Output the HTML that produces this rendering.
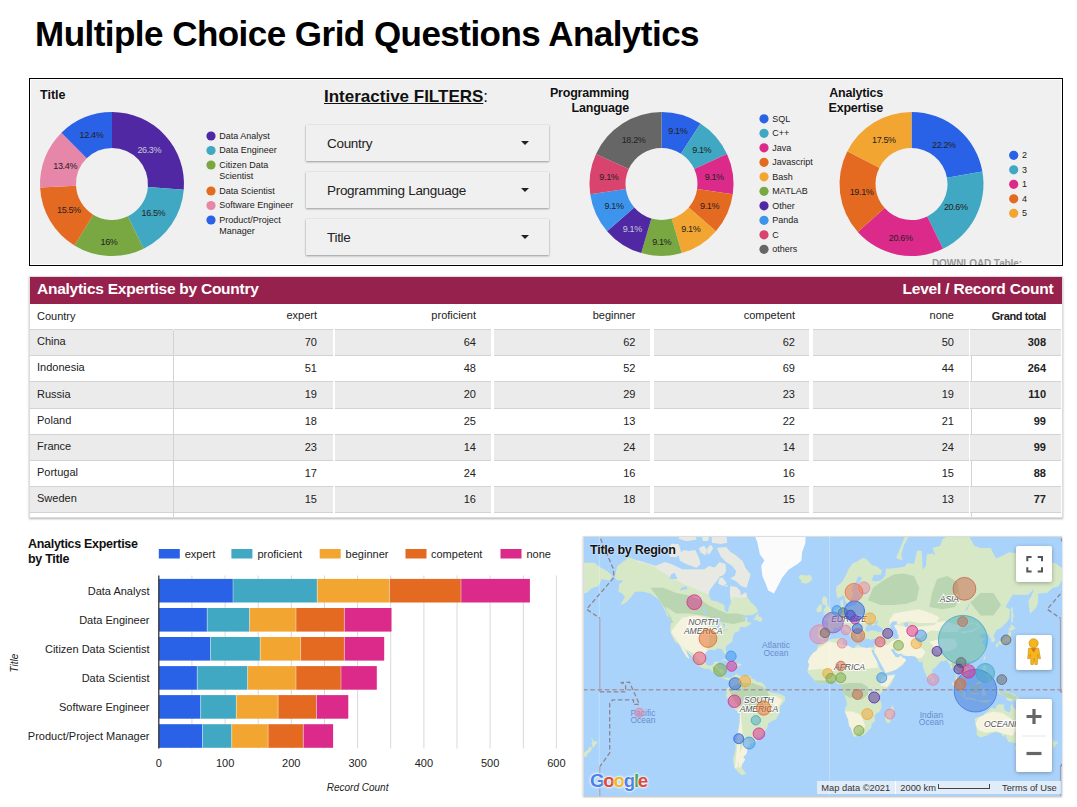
<!DOCTYPE html>
<html><head><meta charset="utf-8"><style>
*{margin:0;padding:0;box-sizing:border-box}
html,body{width:1077px;height:807px;overflow:hidden;background:#fff;font-family:"Liberation Sans", sans-serif;color:#222}
.abs{position:absolute}
#title{position:absolute;left:35px;top:13.6px;font-size:35px;font-weight:bold;color:#000;white-space:nowrap;letter-spacing:-0.53px}
#panel{position:absolute;left:29px;top:78px;width:1034px;height:188px;background:#f0f0f0;border:1px solid #000;box-shadow:inset 0 0 0 1px #fff}
svg{position:absolute;left:0;top:0}
svg text{font-family:"Liberation Sans", sans-serif}
.flt{position:absolute;left:306px;width:243px;height:36px;background:#f0f0f0;box-shadow:0 1px 2px rgba(0,0,0,.35),0 0 1px rgba(0,0,0,.15);font-size:13.5px;color:#222}
.flt span{position:absolute;left:21px;top:11px;letter-spacing:-0.3px}
.flt i{position:absolute;right:20px;top:16px;width:0;height:0;border-left:4px solid transparent;border-right:4px solid transparent;border-top:4px solid #222}
.ptitle{position:absolute;font-size:12.5px;font-weight:bold;color:#111;line-height:15px;white-space:nowrap;text-shadow:0 0 2px #fff}
#tbl{position:absolute;left:29px;top:276px;width:1034px;height:242px;background:#fff;border:1px solid #ddd;box-shadow:0 1px 2px rgba(0,0,0,.3)}
.tc{position:absolute;font-size:11px;color:#222;white-space:nowrap}
.cell{position:absolute}
.hl{position:absolute;height:1px;background:#d3d3d3}
.vl{position:absolute;width:1px;background:#d3d3d3}
.mbtn{position:absolute;left:1016px;width:36px;background:#fff;border-radius:2px;box-shadow:0 1px 4px rgba(0,0,0,.3)}
.mbtn svg{position:absolute;left:0;top:0}
</style></head><body>
<div id="title">Multiple Choice Grid Questions Analytics</div>
<div id="panel"></div>
<div class="ptitle" style="left:40px;top:88px">Title</div>
<div style="position:absolute;left:324px;top:87px;font-size:17px;font-weight:bold;color:#111;white-space:nowrap"><span style="text-decoration:underline">Interactive FILTERS</span><span style="font-weight:normal">:</span></div>
<div class="flt" style="top:125px"><span>Country</span><i></i></div>
<div class="flt" style="top:172px"><span>Programming Language</span><i></i></div>
<div class="flt" style="top:219px"><span>Title</span><i></i></div>
<div class="ptitle" style="right:448px;top:86px;text-align:right;letter-spacing:-0.2px">Programming<br>Language</div>
<div class="ptitle" style="right:194px;top:86px;text-align:right;letter-spacing:-0.2px">Analytics<br>Expertise</div>
<div style="position:absolute;left:932px;top:256.5px;height:8px;overflow:hidden;font-size:10px;font-weight:bold;color:#9a9a9a;white-space:nowrap;line-height:13px;letter-spacing:-0.1px">DOWNLOAD Table:</div>
<svg width="1077" height="807" viewBox="0 0 1077 807">
<path d="M112.00,112.00A72,72 0 0 1 183.77,189.76L147.88,186.88A36,36 0 0 0 112.00,148.00Z" fill="#5028a4"/>
<path d="M183.77,189.76A72,72 0 0 1 143.65,248.67L127.82,216.34A36,36 0 0 0 147.88,186.88Z" fill="#41a8c3"/>
<path d="M143.65,248.67A72,72 0 0 1 74.41,245.41L93.21,214.71A36,36 0 0 0 127.82,216.34Z" fill="#79a843"/>
<path d="M74.41,245.41A72,72 0 0 1 40.09,187.50L76.04,185.75A36,36 0 0 0 93.21,214.71Z" fill="#e46a22"/>
<path d="M40.09,187.50A72,72 0 0 1 61.45,132.73L86.72,158.37A36,36 0 0 0 76.04,185.75Z" fill="#e686a8"/>
<path d="M61.45,132.73A72,72 0 0 1 112.00,112.00L112.00,148.00A36,36 0 0 0 86.72,158.37Z" fill="#2962e6"/>
<text x="149.3" y="153.0" fill="#c8c8d8" font-size="9" letter-spacing="-0.35" text-anchor="middle">26.3%</text>
<text x="153.4" y="216.1" fill="#222" font-size="9" letter-spacing="-0.35" text-anchor="middle">16.5%</text>
<text x="109.0" y="244.9" fill="#222" font-size="9" letter-spacing="-0.35" text-anchor="middle">16%</text>
<text x="68.9" y="212.8" fill="#222" font-size="9" letter-spacing="-0.35" text-anchor="middle">15.5%</text>
<text x="65.2" y="168.9" fill="#222" font-size="9" letter-spacing="-0.35" text-anchor="middle">13.4%</text>
<text x="91.5" y="138.4" fill="#222" font-size="9" letter-spacing="-0.35" text-anchor="middle">12.4%</text>
<circle cx="211" cy="136" r="4.6" fill="#5028a4"/>
<text x="219.3" y="138.8" font-size="9" letter-spacing="0" fill="#222">Data Analyst</text>
<circle cx="211" cy="150.5" r="4.6" fill="#41a8c3"/>
<text x="219.3" y="153.3" font-size="9" letter-spacing="0" fill="#222">Data Engineer</text>
<circle cx="211" cy="165" r="4.6" fill="#79a843"/>
<text x="219.3" y="167.8" font-size="9" letter-spacing="0" fill="#222">Citizen Data</text>
<text x="219.3" y="179.4" font-size="9" letter-spacing="0" fill="#222">Scientist</text>
<circle cx="211" cy="191" r="4.6" fill="#e46a22"/>
<text x="219.3" y="193.8" font-size="9" letter-spacing="0" fill="#222">Data Scientist</text>
<circle cx="211" cy="205.5" r="4.6" fill="#e686a8"/>
<text x="219.3" y="208.3" font-size="9" letter-spacing="0" fill="#222">Software Engineer</text>
<circle cx="211" cy="220" r="4.6" fill="#2962e6"/>
<text x="219.3" y="222.8" font-size="9" letter-spacing="0" fill="#222">Product/Project</text>
<text x="219.3" y="234.4" font-size="9" letter-spacing="0" fill="#222">Manager</text>
<path d="M661.50,112.00A72,72 0 0 1 700.43,123.43L680.96,153.71A36,36 0 0 0 661.50,148.00Z" fill="#2962e6"/>
<path d="M700.43,123.43A72,72 0 0 1 726.99,154.09L694.25,169.05A36,36 0 0 0 680.96,153.71Z" fill="#41a8c3"/>
<path d="M726.99,154.09A72,72 0 0 1 732.77,194.25L697.13,189.12A36,36 0 0 0 694.25,169.05Z" fill="#dc2a8b"/>
<path d="M732.77,194.25A72,72 0 0 1 715.91,231.15L688.71,207.57A36,36 0 0 0 697.13,189.12Z" fill="#e46a22"/>
<path d="M715.91,231.15A72,72 0 0 1 681.78,253.08L671.64,218.54A36,36 0 0 0 688.71,207.57Z" fill="#f2a531"/>
<path d="M681.78,253.08A72,72 0 0 1 641.22,253.08L651.36,218.54A36,36 0 0 0 671.64,218.54Z" fill="#79a843"/>
<path d="M641.22,253.08A72,72 0 0 1 607.09,231.15L634.29,207.57A36,36 0 0 0 651.36,218.54Z" fill="#5028a4"/>
<path d="M607.09,231.15A72,72 0 0 1 590.23,194.25L625.87,189.12A36,36 0 0 0 634.29,207.57Z" fill="#3c94ed"/>
<path d="M590.23,194.25A72,72 0 0 1 596.01,154.09L628.75,169.05A36,36 0 0 0 625.87,189.12Z" fill="#d9446f"/>
<path d="M596.01,154.09A72,72 0 0 1 661.50,112.00L661.50,148.00A36,36 0 0 0 628.75,169.05Z" fill="#666666"/>
<text x="677.8" y="134.2" fill="#222" font-size="9" letter-spacing="-0.35" text-anchor="middle">9.1%</text>
<text x="701.7" y="153.0" fill="#222" font-size="9" letter-spacing="-0.35" text-anchor="middle">9.1%</text>
<text x="714.2" y="180.0" fill="#222" font-size="9" letter-spacing="-0.35" text-anchor="middle">9.1%</text>
<text x="709.5" y="209.1" fill="#222" font-size="9" letter-spacing="-0.35" text-anchor="middle">9.1%</text>
<text x="690.8" y="232.0" fill="#222" font-size="9" letter-spacing="-0.35" text-anchor="middle">9.1%</text>
<text x="661.7" y="245.0" fill="#222" font-size="9" letter-spacing="-0.35" text-anchor="middle">9.1%</text>
<text x="632.3" y="232.0" fill="#c8c8d8" font-size="9" letter-spacing="-0.35" text-anchor="middle">9.1%</text>
<text x="614.1" y="209.1" fill="#222" font-size="9" letter-spacing="-0.35" text-anchor="middle">9.1%</text>
<text x="608.9" y="180.0" fill="#222" font-size="9" letter-spacing="-0.35" text-anchor="middle">9.1%</text>
<text x="633.6" y="143.1" fill="#222" font-size="9" letter-spacing="-0.35" text-anchor="middle">18.2%</text>
<circle cx="764" cy="118.8" r="4.6" fill="#2962e6"/>
<text x="772.3" y="121.6" font-size="9" letter-spacing="0" fill="#222">SQL</text>
<circle cx="764" cy="133.3" r="4.6" fill="#41a8c3"/>
<text x="772.3" y="136.1" font-size="9" letter-spacing="0" fill="#222">C++</text>
<circle cx="764" cy="147.8" r="4.6" fill="#dc2a8b"/>
<text x="772.3" y="150.6" font-size="9" letter-spacing="0" fill="#222">Java</text>
<circle cx="764" cy="162.3" r="4.6" fill="#e46a22"/>
<text x="772.3" y="165.1" font-size="9" letter-spacing="0" fill="#222">Javascript</text>
<circle cx="764" cy="176.8" r="4.6" fill="#f2a531"/>
<text x="772.3" y="179.6" font-size="9" letter-spacing="0" fill="#222">Bash</text>
<circle cx="764" cy="191.3" r="4.6" fill="#79a843"/>
<text x="772.3" y="194.1" font-size="9" letter-spacing="0" fill="#222">MATLAB</text>
<circle cx="764" cy="205.8" r="4.6" fill="#5028a4"/>
<text x="772.3" y="208.6" font-size="9" letter-spacing="0" fill="#222">Other</text>
<circle cx="764" cy="220.3" r="4.6" fill="#3c94ed"/>
<text x="772.3" y="223.1" font-size="9" letter-spacing="0" fill="#222">Panda</text>
<circle cx="764" cy="234.8" r="4.6" fill="#d9446f"/>
<text x="772.3" y="237.6" font-size="9" letter-spacing="0" fill="#222">C</text>
<circle cx="764" cy="249.3" r="4.6" fill="#666666"/>
<text x="772.3" y="252.1" font-size="9" letter-spacing="0" fill="#222">others</text>
<path d="M911.50,112.00A72,72 0 0 1 982.39,171.40L946.94,177.70A36,36 0 0 0 911.50,148.00Z" fill="#2962e6"/>
<path d="M982.39,171.40A72,72 0 0 1 942.97,248.76L927.24,216.38A36,36 0 0 0 946.94,177.70Z" fill="#41a8c3"/>
<path d="M942.97,248.76A72,72 0 0 1 857.79,231.95L884.65,207.98A36,36 0 0 0 927.24,216.38Z" fill="#dc2a8b"/>
<path d="M857.79,231.95A72,72 0 0 1 847.35,151.31L879.42,167.66A36,36 0 0 0 884.65,207.98Z" fill="#e46a22"/>
<path d="M847.35,151.31A72,72 0 0 1 911.50,112.00L911.50,148.00A36,36 0 0 0 879.42,167.66Z" fill="#f2a531"/>
<text x="943.9" y="148.1" fill="#222" font-size="9" letter-spacing="-0.35" text-anchor="middle">22.2%</text>
<text x="955.8" y="210.1" fill="#222" font-size="9" letter-spacing="-0.35" text-anchor="middle">20.6%</text>
<text x="900.7" y="241.1" fill="#222" font-size="9" letter-spacing="-0.35" text-anchor="middle">20.6%</text>
<text x="861.6" y="194.5" fill="#222" font-size="9" letter-spacing="-0.35" text-anchor="middle">19.1%</text>
<text x="883.9" y="143.2" fill="#222" font-size="9" letter-spacing="-0.35" text-anchor="middle">17.5%</text>
<circle cx="1013.7" cy="155.3" r="4.6" fill="#2962e6"/>
<text x="1022.0" y="158.1" font-size="9" letter-spacing="0" fill="#222">2</text>
<circle cx="1013.7" cy="169.8" r="4.6" fill="#41a8c3"/>
<text x="1022.0" y="172.6" font-size="9" letter-spacing="0" fill="#222">3</text>
<circle cx="1013.7" cy="184.3" r="4.6" fill="#dc2a8b"/>
<text x="1022.0" y="187.1" font-size="9" letter-spacing="0" fill="#222">1</text>
<circle cx="1013.7" cy="198.8" r="4.6" fill="#e46a22"/>
<text x="1022.0" y="201.6" font-size="9" letter-spacing="0" fill="#222">4</text>
<circle cx="1013.7" cy="213.3" r="4.6" fill="#f2a531"/>
<text x="1022.0" y="216.1" font-size="9" letter-spacing="0" fill="#222">5</text>
</svg>
<div id="tbl"></div>
<div style="position:absolute;left:30px;top:277px;width:1032px;height:27px;background:#96214c"></div>
<div style="position:absolute;left:37px;top:280px;font-size:15.5px;font-weight:bold;color:#fff;white-space:nowrap;letter-spacing:-0.25px">Analytics Expertise by Country</div>
<div style="position:absolute;right:23.5px;top:280px;font-size:15.5px;font-weight:bold;color:#fff;white-space:nowrap;letter-spacing:-0.2px">Level / Record Count</div>
<div class="tc" style="left:37px;top:304px;height:25px;line-height:24px">Country</div>
<div class="tc" style="right:760px;top:304px;height:24px;line-height:22px;text-align:right;">expert</div>
<div class="tc" style="right:601px;top:304px;height:24px;line-height:22px;text-align:right;">proficient</div>
<div class="tc" style="right:441.5px;top:304px;height:24px;line-height:22px;text-align:right;">beginner</div>
<div class="tc" style="right:282px;top:304px;height:24px;line-height:22px;text-align:right;">competent</div>
<div class="tc" style="right:123px;top:304px;height:24px;line-height:22px;text-align:right;">none</div>
<div class="tc" style="right:31px;top:304px;height:24px;line-height:22px;text-align:right;font-weight:bold;letter-spacing:-0.4px;padding-top:1px;">Grand total</div>
<div class="cell" style="left:30px;width:143px;top:330px;height:25px;background:#ebebeb"></div>
<div class="hl" style="left:30px;width:143px;top:329px"></div>
<div class="hl" style="left:30px;width:143px;top:355px"></div>
<div class="cell" style="left:174px;width:159px;top:330px;height:25px;background:#ebebeb"></div>
<div class="hl" style="left:174px;width:159px;top:329px"></div>
<div class="hl" style="left:174px;width:159px;top:355px"></div>
<div class="cell" style="left:335px;width:156px;top:330px;height:25px;background:#ebebeb"></div>
<div class="hl" style="left:335px;width:156px;top:329px"></div>
<div class="hl" style="left:335px;width:156px;top:355px"></div>
<div class="cell" style="left:494px;width:156px;top:330px;height:25px;background:#ebebeb"></div>
<div class="hl" style="left:494px;width:156px;top:329px"></div>
<div class="hl" style="left:494px;width:156px;top:355px"></div>
<div class="cell" style="left:654px;width:155px;top:330px;height:25px;background:#ebebeb"></div>
<div class="hl" style="left:654px;width:155px;top:329px"></div>
<div class="hl" style="left:654px;width:155px;top:355px"></div>
<div class="cell" style="left:813px;width:156px;top:330px;height:25px;background:#ebebeb"></div>
<div class="hl" style="left:813px;width:156px;top:329px"></div>
<div class="hl" style="left:813px;width:156px;top:355px"></div>
<div class="cell" style="left:970px;width:91px;top:330px;height:25px;background:#ebebeb"></div>
<div class="hl" style="left:970px;width:91px;top:329px"></div>
<div class="hl" style="left:970px;width:91px;top:355px"></div>
<div class="tc" style="left:37px;top:330px;height:25px;line-height:23.4px">China</div>
<div class="tc" style="right:760px;top:330px;height:25px;line-height:24px;text-align:right;">70</div>
<div class="tc" style="right:601px;top:330px;height:25px;line-height:24px;text-align:right;">64</div>
<div class="tc" style="right:441.5px;top:330px;height:25px;line-height:24px;text-align:right;">62</div>
<div class="tc" style="right:282px;top:330px;height:25px;line-height:24px;text-align:right;">62</div>
<div class="tc" style="right:123px;top:330px;height:25px;line-height:24px;text-align:right;">50</div>
<div class="tc" style="right:31px;top:330px;height:25px;line-height:24px;text-align:right;font-weight:bold;">308</div>
<div class="vl" style="left:971px;top:356px;height:25px"></div>
<div class="tc" style="left:37px;top:356px;height:25px;line-height:23.4px">Indonesia</div>
<div class="tc" style="right:760px;top:356px;height:25px;line-height:24px;text-align:right;">51</div>
<div class="tc" style="right:601px;top:356px;height:25px;line-height:24px;text-align:right;">48</div>
<div class="tc" style="right:441.5px;top:356px;height:25px;line-height:24px;text-align:right;">52</div>
<div class="tc" style="right:282px;top:356px;height:25px;line-height:24px;text-align:right;">69</div>
<div class="tc" style="right:123px;top:356px;height:25px;line-height:24px;text-align:right;">44</div>
<div class="tc" style="right:31px;top:356px;height:25px;line-height:24px;text-align:right;font-weight:bold;">264</div>
<div class="cell" style="left:30px;width:143px;top:382px;height:26px;background:#ebebeb"></div>
<div class="hl" style="left:30px;width:143px;top:381px"></div>
<div class="hl" style="left:30px;width:143px;top:408px"></div>
<div class="cell" style="left:174px;width:159px;top:382px;height:26px;background:#ebebeb"></div>
<div class="hl" style="left:174px;width:159px;top:381px"></div>
<div class="hl" style="left:174px;width:159px;top:408px"></div>
<div class="cell" style="left:335px;width:156px;top:382px;height:26px;background:#ebebeb"></div>
<div class="hl" style="left:335px;width:156px;top:381px"></div>
<div class="hl" style="left:335px;width:156px;top:408px"></div>
<div class="cell" style="left:494px;width:156px;top:382px;height:26px;background:#ebebeb"></div>
<div class="hl" style="left:494px;width:156px;top:381px"></div>
<div class="hl" style="left:494px;width:156px;top:408px"></div>
<div class="cell" style="left:654px;width:155px;top:382px;height:26px;background:#ebebeb"></div>
<div class="hl" style="left:654px;width:155px;top:381px"></div>
<div class="hl" style="left:654px;width:155px;top:408px"></div>
<div class="cell" style="left:813px;width:156px;top:382px;height:26px;background:#ebebeb"></div>
<div class="hl" style="left:813px;width:156px;top:381px"></div>
<div class="hl" style="left:813px;width:156px;top:408px"></div>
<div class="cell" style="left:970px;width:91px;top:382px;height:26px;background:#ebebeb"></div>
<div class="hl" style="left:970px;width:91px;top:381px"></div>
<div class="hl" style="left:970px;width:91px;top:408px"></div>
<div class="tc" style="left:37px;top:382px;height:26px;line-height:24.4px">Russia</div>
<div class="tc" style="right:760px;top:382px;height:26px;line-height:25px;text-align:right;">19</div>
<div class="tc" style="right:601px;top:382px;height:26px;line-height:25px;text-align:right;">20</div>
<div class="tc" style="right:441.5px;top:382px;height:26px;line-height:25px;text-align:right;">29</div>
<div class="tc" style="right:282px;top:382px;height:26px;line-height:25px;text-align:right;">23</div>
<div class="tc" style="right:123px;top:382px;height:26px;line-height:25px;text-align:right;">19</div>
<div class="tc" style="right:31px;top:382px;height:26px;line-height:25px;text-align:right;font-weight:bold;">110</div>
<div class="vl" style="left:971px;top:409px;height:25px"></div>
<div class="tc" style="left:37px;top:409px;height:25px;line-height:23.4px">Poland</div>
<div class="tc" style="right:760px;top:409px;height:25px;line-height:24px;text-align:right;">18</div>
<div class="tc" style="right:601px;top:409px;height:25px;line-height:24px;text-align:right;">25</div>
<div class="tc" style="right:441.5px;top:409px;height:25px;line-height:24px;text-align:right;">13</div>
<div class="tc" style="right:282px;top:409px;height:25px;line-height:24px;text-align:right;">22</div>
<div class="tc" style="right:123px;top:409px;height:25px;line-height:24px;text-align:right;">21</div>
<div class="tc" style="right:31px;top:409px;height:25px;line-height:24px;text-align:right;font-weight:bold;">99</div>
<div class="cell" style="left:30px;width:143px;top:435px;height:25px;background:#ebebeb"></div>
<div class="hl" style="left:30px;width:143px;top:434px"></div>
<div class="hl" style="left:30px;width:143px;top:460px"></div>
<div class="cell" style="left:174px;width:159px;top:435px;height:25px;background:#ebebeb"></div>
<div class="hl" style="left:174px;width:159px;top:434px"></div>
<div class="hl" style="left:174px;width:159px;top:460px"></div>
<div class="cell" style="left:335px;width:156px;top:435px;height:25px;background:#ebebeb"></div>
<div class="hl" style="left:335px;width:156px;top:434px"></div>
<div class="hl" style="left:335px;width:156px;top:460px"></div>
<div class="cell" style="left:494px;width:156px;top:435px;height:25px;background:#ebebeb"></div>
<div class="hl" style="left:494px;width:156px;top:434px"></div>
<div class="hl" style="left:494px;width:156px;top:460px"></div>
<div class="cell" style="left:654px;width:155px;top:435px;height:25px;background:#ebebeb"></div>
<div class="hl" style="left:654px;width:155px;top:434px"></div>
<div class="hl" style="left:654px;width:155px;top:460px"></div>
<div class="cell" style="left:813px;width:156px;top:435px;height:25px;background:#ebebeb"></div>
<div class="hl" style="left:813px;width:156px;top:434px"></div>
<div class="hl" style="left:813px;width:156px;top:460px"></div>
<div class="cell" style="left:970px;width:91px;top:435px;height:25px;background:#ebebeb"></div>
<div class="hl" style="left:970px;width:91px;top:434px"></div>
<div class="hl" style="left:970px;width:91px;top:460px"></div>
<div class="tc" style="left:37px;top:435px;height:25px;line-height:23.4px">France</div>
<div class="tc" style="right:760px;top:435px;height:25px;line-height:24px;text-align:right;">23</div>
<div class="tc" style="right:601px;top:435px;height:25px;line-height:24px;text-align:right;">14</div>
<div class="tc" style="right:441.5px;top:435px;height:25px;line-height:24px;text-align:right;">24</div>
<div class="tc" style="right:282px;top:435px;height:25px;line-height:24px;text-align:right;">14</div>
<div class="tc" style="right:123px;top:435px;height:25px;line-height:24px;text-align:right;">24</div>
<div class="tc" style="right:31px;top:435px;height:25px;line-height:24px;text-align:right;font-weight:bold;">99</div>
<div class="vl" style="left:971px;top:461px;height:25px"></div>
<div class="tc" style="left:37px;top:461px;height:25px;line-height:23.4px">Portugal</div>
<div class="tc" style="right:760px;top:461px;height:25px;line-height:24px;text-align:right;">17</div>
<div class="tc" style="right:601px;top:461px;height:25px;line-height:24px;text-align:right;">24</div>
<div class="tc" style="right:441.5px;top:461px;height:25px;line-height:24px;text-align:right;">16</div>
<div class="tc" style="right:282px;top:461px;height:25px;line-height:24px;text-align:right;">16</div>
<div class="tc" style="right:123px;top:461px;height:25px;line-height:24px;text-align:right;">15</div>
<div class="tc" style="right:31px;top:461px;height:25px;line-height:24px;text-align:right;font-weight:bold;">88</div>
<div class="cell" style="left:30px;width:143px;top:487px;height:25px;background:#ebebeb"></div>
<div class="hl" style="left:30px;width:143px;top:486px"></div>
<div class="hl" style="left:30px;width:143px;top:512px"></div>
<div class="cell" style="left:174px;width:159px;top:487px;height:25px;background:#ebebeb"></div>
<div class="hl" style="left:174px;width:159px;top:486px"></div>
<div class="hl" style="left:174px;width:159px;top:512px"></div>
<div class="cell" style="left:335px;width:156px;top:487px;height:25px;background:#ebebeb"></div>
<div class="hl" style="left:335px;width:156px;top:486px"></div>
<div class="hl" style="left:335px;width:156px;top:512px"></div>
<div class="cell" style="left:494px;width:156px;top:487px;height:25px;background:#ebebeb"></div>
<div class="hl" style="left:494px;width:156px;top:486px"></div>
<div class="hl" style="left:494px;width:156px;top:512px"></div>
<div class="cell" style="left:654px;width:155px;top:487px;height:25px;background:#ebebeb"></div>
<div class="hl" style="left:654px;width:155px;top:486px"></div>
<div class="hl" style="left:654px;width:155px;top:512px"></div>
<div class="cell" style="left:813px;width:156px;top:487px;height:25px;background:#ebebeb"></div>
<div class="hl" style="left:813px;width:156px;top:486px"></div>
<div class="hl" style="left:813px;width:156px;top:512px"></div>
<div class="cell" style="left:970px;width:91px;top:487px;height:25px;background:#ebebeb"></div>
<div class="hl" style="left:970px;width:91px;top:486px"></div>
<div class="hl" style="left:970px;width:91px;top:512px"></div>
<div class="tc" style="left:37px;top:487px;height:25px;line-height:23.4px">Sweden</div>
<div class="tc" style="right:760px;top:487px;height:25px;line-height:24px;text-align:right;">15</div>
<div class="tc" style="right:601px;top:487px;height:25px;line-height:24px;text-align:right;">16</div>
<div class="tc" style="right:441.5px;top:487px;height:25px;line-height:24px;text-align:right;">18</div>
<div class="tc" style="right:282px;top:487px;height:25px;line-height:24px;text-align:right;">15</div>
<div class="tc" style="right:123px;top:487px;height:25px;line-height:24px;text-align:right;">13</div>
<div class="tc" style="right:31px;top:487px;height:25px;line-height:24px;text-align:right;font-weight:bold;">77</div>
<div class="vl" style="left:971px;top:513px;height:4px"></div>
<div class="vl" style="left:173px;top:330px;height:187px"></div>
<div class="ptitle" style="left:28px;top:537px;letter-spacing:-0.3px">Analytics Expertise<br>by Title</div>
<svg width="1077" height="807" viewBox="0 0 1077 807">
<line x1="191.9" y1="575.5" x2="191.9" y2="748.5" stroke="#d9d9d9" stroke-width="1"/>
<line x1="225.1" y1="575.5" x2="225.1" y2="748.5" stroke="#d9d9d9" stroke-width="1"/>
<line x1="258.2" y1="575.5" x2="258.2" y2="748.5" stroke="#d9d9d9" stroke-width="1"/>
<line x1="291.3" y1="575.5" x2="291.3" y2="748.5" stroke="#d9d9d9" stroke-width="1"/>
<line x1="324.5" y1="575.5" x2="324.5" y2="748.5" stroke="#d9d9d9" stroke-width="1"/>
<line x1="357.6" y1="575.5" x2="357.6" y2="748.5" stroke="#d9d9d9" stroke-width="1"/>
<line x1="390.7" y1="575.5" x2="390.7" y2="748.5" stroke="#d9d9d9" stroke-width="1"/>
<line x1="423.9" y1="575.5" x2="423.9" y2="748.5" stroke="#d9d9d9" stroke-width="1"/>
<line x1="457.0" y1="575.5" x2="457.0" y2="748.5" stroke="#d9d9d9" stroke-width="1"/>
<line x1="490.1" y1="575.5" x2="490.1" y2="748.5" stroke="#d9d9d9" stroke-width="1"/>
<line x1="523.3" y1="575.5" x2="523.3" y2="748.5" stroke="#d9d9d9" stroke-width="1"/>
<line x1="556.4" y1="575.5" x2="556.4" y2="748.5" stroke="#d9d9d9" stroke-width="1"/>
<rect x="158.8" y="578.9" width="74.2" height="23.6" fill="#2962e6"/>
<rect x="233.0" y="578.9" width="84.2" height="23.6" fill="#41a8c3"/>
<line x1="233.0" y1="578.9" x2="233.0" y2="602.5" stroke="#fff" stroke-opacity="0.5" stroke-width="0.8"/>
<rect x="317.2" y="578.9" width="72.2" height="23.6" fill="#f2a531"/>
<line x1="317.2" y1="578.9" x2="317.2" y2="602.5" stroke="#fff" stroke-opacity="0.5" stroke-width="0.8"/>
<rect x="389.4" y="578.9" width="71.6" height="23.6" fill="#e46a22"/>
<line x1="389.4" y1="578.9" x2="389.4" y2="602.5" stroke="#fff" stroke-opacity="0.5" stroke-width="0.8"/>
<rect x="461.0" y="578.9" width="68.9" height="23.6" fill="#dc2a8b"/>
<line x1="461.0" y1="578.9" x2="461.0" y2="602.5" stroke="#fff" stroke-opacity="0.5" stroke-width="0.8"/>
<text x="149.5" y="594.9" font-size="11" text-anchor="end" fill="#222">Data Analyst</text>
<rect x="158.8" y="608.0" width="48.4" height="23.6" fill="#2962e6"/>
<rect x="207.2" y="608.0" width="42.4" height="23.6" fill="#41a8c3"/>
<line x1="207.2" y1="608.0" x2="207.2" y2="631.6" stroke="#fff" stroke-opacity="0.5" stroke-width="0.8"/>
<rect x="249.6" y="608.0" width="46.4" height="23.6" fill="#f2a531"/>
<line x1="249.6" y1="608.0" x2="249.6" y2="631.6" stroke="#fff" stroke-opacity="0.5" stroke-width="0.8"/>
<rect x="296.0" y="608.0" width="48.4" height="23.6" fill="#e46a22"/>
<line x1="296.0" y1="608.0" x2="296.0" y2="631.6" stroke="#fff" stroke-opacity="0.5" stroke-width="0.8"/>
<rect x="344.4" y="608.0" width="47.1" height="23.6" fill="#dc2a8b"/>
<line x1="344.4" y1="608.0" x2="344.4" y2="631.6" stroke="#fff" stroke-opacity="0.5" stroke-width="0.8"/>
<text x="149.5" y="624.0" font-size="11" text-anchor="end" fill="#222">Data Engineer</text>
<rect x="158.8" y="637.0" width="51.7" height="23.6" fill="#2962e6"/>
<rect x="210.5" y="637.0" width="49.7" height="23.6" fill="#41a8c3"/>
<line x1="210.5" y1="637.0" x2="210.5" y2="660.6" stroke="#fff" stroke-opacity="0.5" stroke-width="0.8"/>
<rect x="260.2" y="637.0" width="40.4" height="23.6" fill="#f2a531"/>
<line x1="260.2" y1="637.0" x2="260.2" y2="660.6" stroke="#fff" stroke-opacity="0.5" stroke-width="0.8"/>
<rect x="300.6" y="637.0" width="43.7" height="23.6" fill="#e46a22"/>
<line x1="300.6" y1="637.0" x2="300.6" y2="660.6" stroke="#fff" stroke-opacity="0.5" stroke-width="0.8"/>
<rect x="344.4" y="637.0" width="39.8" height="23.6" fill="#dc2a8b"/>
<line x1="344.4" y1="637.0" x2="344.4" y2="660.6" stroke="#fff" stroke-opacity="0.5" stroke-width="0.8"/>
<text x="149.5" y="653.0" font-size="11" text-anchor="end" fill="#222">Citizen Data Scientist</text>
<rect x="158.8" y="666.1" width="38.4" height="23.6" fill="#2962e6"/>
<rect x="197.2" y="666.1" width="50.4" height="23.6" fill="#41a8c3"/>
<line x1="197.2" y1="666.1" x2="197.2" y2="689.7" stroke="#fff" stroke-opacity="0.5" stroke-width="0.8"/>
<rect x="247.6" y="666.1" width="48.4" height="23.6" fill="#f2a531"/>
<line x1="247.6" y1="666.1" x2="247.6" y2="689.7" stroke="#fff" stroke-opacity="0.5" stroke-width="0.8"/>
<rect x="296.0" y="666.1" width="45.1" height="23.6" fill="#e46a22"/>
<line x1="296.0" y1="666.1" x2="296.0" y2="689.7" stroke="#fff" stroke-opacity="0.5" stroke-width="0.8"/>
<rect x="341.0" y="666.1" width="35.8" height="23.6" fill="#dc2a8b"/>
<line x1="341.0" y1="666.1" x2="341.0" y2="689.7" stroke="#fff" stroke-opacity="0.5" stroke-width="0.8"/>
<text x="149.5" y="682.1" font-size="11" text-anchor="end" fill="#222">Data Scientist</text>
<rect x="158.8" y="695.1" width="41.8" height="23.6" fill="#2962e6"/>
<rect x="200.6" y="695.1" width="35.8" height="23.6" fill="#41a8c3"/>
<line x1="200.6" y1="695.1" x2="200.6" y2="718.7" stroke="#fff" stroke-opacity="0.5" stroke-width="0.8"/>
<rect x="236.3" y="695.1" width="41.8" height="23.6" fill="#f2a531"/>
<line x1="236.3" y1="695.1" x2="236.3" y2="718.7" stroke="#fff" stroke-opacity="0.5" stroke-width="0.8"/>
<rect x="278.1" y="695.1" width="38.4" height="23.6" fill="#e46a22"/>
<line x1="278.1" y1="695.1" x2="278.1" y2="718.7" stroke="#fff" stroke-opacity="0.5" stroke-width="0.8"/>
<rect x="316.5" y="695.1" width="31.8" height="23.6" fill="#dc2a8b"/>
<line x1="316.5" y1="695.1" x2="316.5" y2="718.7" stroke="#fff" stroke-opacity="0.5" stroke-width="0.8"/>
<text x="149.5" y="711.1" font-size="11" text-anchor="end" fill="#222">Software Engineer</text>
<rect x="158.8" y="724.2" width="43.7" height="23.6" fill="#2962e6"/>
<rect x="202.5" y="724.2" width="29.2" height="23.6" fill="#41a8c3"/>
<line x1="202.5" y1="724.2" x2="202.5" y2="747.8" stroke="#fff" stroke-opacity="0.5" stroke-width="0.8"/>
<rect x="231.7" y="724.2" width="36.4" height="23.6" fill="#f2a531"/>
<line x1="231.7" y1="724.2" x2="231.7" y2="747.8" stroke="#fff" stroke-opacity="0.5" stroke-width="0.8"/>
<rect x="268.1" y="724.2" width="35.1" height="23.6" fill="#e46a22"/>
<line x1="268.1" y1="724.2" x2="268.1" y2="747.8" stroke="#fff" stroke-opacity="0.5" stroke-width="0.8"/>
<rect x="303.3" y="724.2" width="29.8" height="23.6" fill="#dc2a8b"/>
<line x1="303.3" y1="724.2" x2="303.3" y2="747.8" stroke="#fff" stroke-opacity="0.5" stroke-width="0.8"/>
<text x="149.5" y="740.2" font-size="11" text-anchor="end" fill="#222">Product/Project Manager</text>
<line x1="158.8" y1="575.5" x2="158.8" y2="748.5" stroke="#333" stroke-width="1.3"/>
<text x="158.8" y="767" font-size="11" text-anchor="middle" fill="#222">0</text>
<text x="225.1" y="767" font-size="11" text-anchor="middle" fill="#222">100</text>
<text x="291.3" y="767" font-size="11" text-anchor="middle" fill="#222">200</text>
<text x="357.6" y="767" font-size="11" text-anchor="middle" fill="#222">300</text>
<text x="423.9" y="767" font-size="11" text-anchor="middle" fill="#222">400</text>
<text x="490.1" y="767" font-size="11" text-anchor="middle" fill="#222">500</text>
<text x="556.4" y="767" font-size="11" text-anchor="middle" fill="#222">600</text>
<text x="357.6" y="791" font-size="10" font-style="italic" text-anchor="middle" fill="#222">Record Count</text>
<text transform="translate(18,663) rotate(-90)" font-size="10" font-style="italic" text-anchor="middle" fill="#222">Title</text>
<rect x="158.8" y="549" width="21" height="9.5" fill="#2962e6"/>
<text x="184.7" y="557.5" font-size="11" fill="#222">expert</text>
<rect x="231.4" y="549" width="21" height="9.5" fill="#41a8c3"/>
<text x="257.4" y="557.5" font-size="11" fill="#222">proficient</text>
<rect x="319.7" y="549" width="21" height="9.5" fill="#f2a531"/>
<text x="345.6" y="557.5" font-size="11" fill="#222">beginner</text>
<rect x="405.5" y="549" width="21" height="9.5" fill="#e46a22"/>
<text x="431" y="557.5" font-size="11" fill="#222">competent</text>
<rect x="500.5" y="549" width="21" height="9.5" fill="#dc2a8b"/>
<text x="526.4" y="557.5" font-size="11" fill="#222">none</text>
</svg>
<div id="map" style="position:absolute;left:583px;top:536px;width:479px;height:260px;overflow:hidden;background:#aad3fb;border-top:1px solid #ddd;border-left:1px solid #ddd;box-shadow:0 1px 2px rgba(0,0,0,.3)">
<svg width="479" height="260" viewBox="583 536 479 260" style="position:absolute;left:-1px;top:-1px">
<defs><clipPath id="landclip"><path d="M614.7,577.2L617.2,566.3L629.0,557.3L640.2,561.2L649.2,563.8L655.6,565.9L664.6,562.3L671.0,564.1L682.5,569.4L691.4,569.4L704.2,569.4L709.3,565.9L714.5,567.7L719.6,562.3L725.3,564.1L726.0,571.1L723.4,575.0L719.6,576.6L717.0,580.6L714.5,583.5L709.3,590.4L708.7,595.5L711.3,600.3L717.0,601.5L724.3,604.9L724.7,610.3L727.9,612.4L728.9,607.1L731.1,602.6L730.4,596.7L729.8,591.7L730.4,586.3L736.2,586.9L740.0,590.4L740.7,595.5L745.8,592.2L747.1,596.7L750.9,602.6L756.0,607.1L758.3,611.3L752.8,615.0L744.5,615.4L740.7,619.3L747.1,617.0L747.5,618.4L746.4,621.0L751.6,623.6L752.8,623.1L745.2,627.2L740.0,627.0L739.3,630.9L734.9,632.6L733.0,636.1L732.4,641.3L730.1,643.2L726.0,646.2L725.6,649.2L727.2,653.9L726.7,656.2L724.9,654.3L723.7,652.2L722.1,649.2L718.9,648.6L715.1,648.9L715.3,650.7L713.2,650.0L709.3,649.8L705.1,652.9L704.9,656.4L704.6,660.6L706.5,664.7L708.7,665.8L711.9,665.3L713.9,663.8L714.1,662.0L718.3,661.3L717.4,665.7L716.8,668.8L719.6,668.9L723.0,670.1L722.5,675.3L724.3,677.4L727.9,677.2L730.6,678.3L730.1,679.9L727.2,680.1L723.4,678.8L720.0,676.6L717.7,672.7L712.5,671.4L708.7,668.5L706.1,669.2L700.4,667.0L694.6,662.7L694.9,659.9L693.3,658.1L690.1,654.3L686.1,650.7L682.9,647.0L686.3,652.2L689.6,659.1L686.3,656.9L683.7,652.4L680.4,646.5L679.8,645.5L678.0,643.2L675.3,642.3L672.9,637.7L670.7,632.9L670.3,628.4L671.0,622.7L670.1,618.5L672.2,617.4L667.1,614.4L662.6,606.0L659.4,600.3L655.0,596.7L650.5,593.5L642.8,591.7L635.1,591.7L631.9,596.0L626.2,602.6L620.4,605.3L624.9,596.7L622.3,593.5L618.5,591.7L619.1,584.3L623.6,580.6L617.2,580.3Z M746.4,587.7L750.5,574.4L745.2,567.7L742.6,561.2L736.2,555.7L729.8,551.5L726.0,547.0L717.0,547.9L720.9,556.5L726.6,562.3L732.4,565.9L736.2,571.1L734.9,576.0L730.4,578.2L736.2,581.2L741.3,586.0Z M669.7,556.5L676.1,557.3L681.2,552.3L678.6,544.3L671.0,543.8L669.0,550.2Z M679.9,560.4L686.3,564.1L696.5,567.7L700.4,564.1L699.1,558.5L695.3,550.2L688.9,551.0L683.7,550.2L678.6,554.4Z M700.4,552.3L705.5,555.2L706.8,550.2L704.2,545.7L699.1,547.9Z M707.4,554.4L710.0,553.2L713.2,547.9L710.6,544.7L707.4,547.9Z M711.9,542.8L720.9,543.8L727.2,542.8L726.0,535.8L715.7,533.1L711.9,534.7Z M686.3,540.9L696.5,539.4L694.0,533.1L681.2,533.1L678.6,538.4Z M702.9,540.9L708.1,540.9L709.3,533.1L701.7,533.1Z M718.3,583.2L719.6,578.2L722.1,577.5L725.3,581.2L726.6,583.2L723.4,585.8L719.6,584.3Z M724.7,585.5L726.6,586.9L727.9,584.9Z M714.5,533.1L733.6,533.1L729.8,524.4L714.5,524.4Z M800.6,582.6L806.6,583.8L811.0,580.9L812.3,578.2L810.4,575.0L806.6,575.4L800.9,574.7L798.3,577.5L801.5,580.6Z M822.3,615.2L831.4,613.0L831.8,609.9L829.6,608.2L827.7,604.9L827.0,602.6L827.3,598.9L825.6,596.5L823.2,596.5L821.7,600.8L822.6,604.2L825.8,605.1L825.5,608.4L823.8,608.6L824.1,610.7L822.9,612.0L825.8,612.6Z M821.9,610.9L821.7,607.3L822.3,605.3L820.0,604.2L818.7,606.0L816.8,608.2L816.6,612.0L819.4,612.2Z M818.1,638.5L817.4,635.2L818.3,630.2L817.8,628.1L819.4,627.2L824.5,627.7L827.4,627.7L828.1,625.4L828.1,622.7L826.5,620.6L823.6,619.3L825.8,617.8L827.7,618.2L827.3,616.0L829.9,616.4L831.6,613.6L834.1,612.6L835.4,610.3L836.0,608.6L838.6,608.0L840.6,607.3L840.6,604.0L840.1,601.2L843.2,598.7L842.9,601.7L843.4,604.2L843.3,606.2L845.0,606.7L847.5,607.3L853.3,605.3L856.5,604.2L856.5,600.8L859.7,600.3L860.8,597.2L859.7,595.0L865.4,594.2L867.7,593.0L862.9,591.9L858.8,593.5L857.0,590.4L857.2,584.9L861.6,579.1L862.2,577.5L858.1,576.6L856.6,580.6L852.6,586.0L851.6,590.4L853.3,592.4L852.6,594.7L850.7,599.1L850.1,602.2L847.8,604.0L845.8,602.6L844.7,597.9L843.7,595.5L842.4,595.5L839.8,597.7L837.3,597.4L836.6,594.7L836.0,590.4L836.6,586.3L840.5,583.5L843.0,580.6L846.2,574.4L848.8,568.7L852.6,563.4L857.1,561.5L862.6,558.1L866.1,558.8L869.3,562.3L871.8,564.9L876.3,565.9L882.1,570.8L880.8,574.7L873.7,575.0L871.8,580.6L876.3,581.2L880.8,580.6L885.3,575.4L885.9,568.4L888.5,568.7L898.0,567.7L904.4,566.7L907.6,563.0L914.0,564.1L917.2,550.2L921.7,551.0L922.7,569.4L925.9,565.9L926.8,554.4L932.0,553.6L935.2,555.2L932.6,547.9L940.3,545.7L942.2,539.4L951.1,534.2L957.5,530.3L962.7,524.4L974.2,545.7L980.6,547.9L990.8,547.9L995.9,558.5L1002.3,556.1L1008.7,552.3L1019.0,553.6L1024.1,558.8L1034.3,563.8L1044.5,562.7L1054.8,562.7L1059.9,566.7L1067.6,571.1L1073.1,576.0L1070.1,580.6L1062.5,579.1L1058.6,586.3L1052.2,588.2L1047.1,593.0L1038.1,593.5L1038.1,597.9L1038.1,602.6L1036.9,606.0L1034.3,609.7L1030.1,613.4L1029.2,608.2L1028.5,600.3L1030.5,597.9L1034.3,589.0L1027.9,594.7L1022.8,595.0L1012.6,594.7L1005.5,607.1L1010.0,609.2L1009.4,618.4L1006.2,623.1L999.8,628.8L996.8,629.7L995.3,632.2L993.4,635.6L995.2,640.1L994.6,641.5L991.4,642.6L991.1,638.2L989.5,637.4L988.9,633.9L985.0,635.2L985.7,632.7L980.6,634.9L980.2,636.4L981.8,638.2L986.3,638.0L983.8,640.1L982.1,642.0L984.2,645.5L985.6,647.9L985.0,651.4L982.5,655.7L979.3,658.6L974.8,660.2L971.0,661.7L970.3,663.0L968.4,661.0L965.9,663.0L965.0,664.7L968.7,669.8L969.3,674.0L966.5,676.0L963.9,678.5L963.7,676.4L961.4,675.3L958.2,672.1L956.5,676.0L957.9,679.9L960.1,681.6L961.9,684.4L962.9,687.7L961.9,687.8L959.2,685.8L957.9,682.3L955.4,679.2L955.7,676.0L955.6,672.7L954.6,668.1L953.1,667.4L950.2,668.8L950.2,665.0L947.7,662.0L947.0,659.9L945.4,660.6L942.8,661.2L940.8,661.6L938.3,664.1L934.9,668.0L932.3,669.4L932.2,672.7L931.7,676.3L929.4,678.8L928.8,679.1L927.2,677.3L925.3,672.9L923.6,668.8L922.7,664.7L922.5,661.6L919.8,662.4L917.9,660.2L917.0,658.4L915.3,656.7L911.5,656.0L908.3,656.2L902.9,655.2L901.6,653.3L898.7,654.2L895.5,652.3L893.7,649.1L892.0,648.8L891.0,650.0L893.6,654.3L895.6,657.0L898.7,657.6L901.2,654.9L901.8,657.2L904.8,658.6L906.1,660.1L904.4,662.7L903.4,664.7L900.6,666.5L896.4,669.3L891.9,671.4L887.2,673.0L885.3,673.1L884.2,669.4L879.5,661.3L876.3,655.0L874.4,652.2L874.3,650.0L871.3,649.4L870.9,647.4L873.4,647.3L874.4,644.7L875.5,640.9L875.9,639.1L873.7,638.8L871.2,639.9L868.7,638.8L866.7,639.1L864.5,638.0L863.2,636.1L863.1,633.4L860.3,632.2L858.5,633.1L859.3,635.2L860.3,636.5L859.0,637.7L858.4,639.4L857.2,638.6L856.6,636.4L855.4,634.2L854.4,632.2L854.4,630.2L853.3,629.3L850.1,627.6L847.1,624.7L845.3,624.3L845.5,626.3L847.0,627.6L850.3,630.4L853.3,633.2L851.3,635.2L850.2,636.9L849.7,636.9L849.6,633.6L847.9,632.2L845.3,630.7L843.0,628.6L842.6,626.9L840.9,626.0L839.2,627.0L837.3,628.3L835.4,627.6L833.4,628.3L833.7,630.2L830.9,631.9L829.2,634.6L829.9,635.7L828.7,637.5L826.9,639.0L824.0,639.0L822.4,640.1L821.5,638.8L820.1,638.2Z M871.2,649.4L872.5,653.6L875.0,658.0L877.2,662.0L878.9,666.1L880.4,669.4L882.7,671.7L885.0,674.3L886.5,676.1L889.7,675.2L895.2,674.3L894.8,676.1L892.9,680.5L891.0,683.7L888.5,686.9L885.3,690.1L883.3,690.8L881.0,693.1L879.8,695.5L880.1,697.8L879.9,699.8L881.3,703.0L881.5,708.3L879.8,711.3L876.7,713.6L874.1,715.4L874.9,718.6L875.0,721.1L871.7,723.8L871.3,727.4L869.3,729.6L865.4,733.8L862.5,735.8L858.4,735.8L855.2,737.0L853.1,736.3L852.8,734.3L851.7,730.5L850.7,727.7L849.0,725.4L848.2,719.6L846.5,715.6L844.7,711.8L845.3,707.6L847.0,705.0L846.5,701.1L845.2,697.2L844.6,694.6L841.5,691.0L841.8,688.2L842.1,685.7L841.1,684.4L840.3,683.7L837.3,684.0L835.4,681.4L832.2,681.4L828.3,683.0L825.8,683.0L820.0,683.9L818.1,683.1L814.9,680.8L812.6,678.3L810.4,675.6L808.2,673.4L807.2,670.5L808.5,668.1L809.1,664.1L807.9,662.0L809.1,658.6L811.0,655.0L813.0,652.4L816.8,650.7L817.1,647.7L818.7,644.3L820.9,642.7L822.1,640.4L827.0,641.5L830.9,639.3L833.4,638.8L838.6,638.3L842.1,638.0L843.7,638.5L843.0,640.9L842.8,643.2L843.9,644.4L846.2,645.0L849.2,645.9L852.6,648.5L855.2,647.4L855.6,645.6L858.4,645.0L861.6,646.9L866.7,647.9L870.9,647.4Z M892.7,705.0L894.2,709.6L892.9,712.2L891.7,717.0L890.0,722.6L887.3,723.3L885.5,720.6L885.0,717.7L886.4,714.9L885.9,711.6L889.1,710.0L891.7,706.9Z M931.8,676.9L933.5,678.6L934.3,680.1L933.6,681.6L932.1,681.8L931.7,679.9Z M730.6,678.3L732.9,675.9L734.7,674.9L737.5,673.5L738.1,675.6L742.2,676.0L747.1,676.4L750.3,675.7L751.6,678.6L754.1,679.2L756.7,681.8L760.5,682.1L763.5,684.1L765.6,687.2L765.8,689.5L767.5,690.8L772.7,692.7L777.1,693.2L780.3,694.2L784.6,696.3L785.1,698.6L784.7,701.1L782.3,703.7L780.3,706.3L779.7,712.4L777.8,716.3L775.9,719.7L774.3,719.7L768.2,723.3L767.4,727.6L764.6,731.3L762.4,735.0L761.2,736.1L759.2,737.4L756.0,736.6L756.4,739.4L757.1,739.9L756.0,742.5L750.3,743.8L750.0,746.8L746.4,747.1L747.7,749.7L746.4,754.1L743.2,756.9L745.2,759.7L742.3,764.2L742.0,768.3L746.1,773.7L742.0,775.2L738.1,771.9L734.3,767.7L733.0,759.7L734.9,752.3L735.6,748.5L735.2,741.3L737.5,734.3L738.1,729.8L739.7,722.6L739.9,713.6L737.5,711.6L732.1,707.3L729.8,703.0L727.9,699.1L725.6,695.5L727.1,693.1L726.1,690.8L727.2,688.5L728.8,687.2L730.6,684.4L730.7,680.5Z M974.8,718.4L975.5,724.7L976.7,729.8L976.7,735.0L980.3,737.4L987.0,735.5L990.8,733.2L997.2,732.0L1001.0,733.5L1003.5,737.0L1005.5,734.3L1006.2,738.1L1008.7,742.0L1013.8,742.6L1017.0,743.8L1021.5,741.3L1022.8,735.8L1025.3,731.3L1026.0,726.8L1025.3,722.6L1022.5,719.1L1020.2,716.3L1016.4,713.6L1015.8,708.9L1013.2,707.6L1011.9,703.3L1010.6,706.3L1010.6,710.9L1008.7,712.4L1004.9,710.2L1003.6,706.9L1004.6,705.0L999.1,704.1L996.6,705.4L995.3,708.9L991.4,707.5L988.2,710.9L985.9,712.9L983.1,715.4L979.3,716.4Z M1014.6,746.6L1019.3,746.9L1019.0,750.6L1017.4,751.6L1015.4,749.2Z M1050.6,736.4L1052.9,738.9L1054.8,741.5L1058.0,741.6L1057.2,744.1L1055.8,744.8L1053.9,748.1L1053.0,747.6L1053.1,745.3L1052.0,744.1L1053.0,742.1L1052.7,739.7Z M1050.6,746.3L1052.6,748.3L1051.2,751.4L1048.6,753.2L1046.7,756.9L1042.6,755.9L1042.9,754.5L1045.1,752.3L1048.1,750.2L1049.7,748.0Z M951.5,682.3L954.3,682.8L957.9,686.6L962.3,690.8L965.2,693.3L965.1,696.9L963.3,697.1L960.5,694.6L958.2,690.8L955.9,687.3L952.4,684.5Z M964.2,698.2L965.2,697.2L968.2,697.6L971.0,697.8L973.7,698.3L976.0,699.4L976.2,700.7L971.6,700.0L967.8,699.5L965.7,699.0Z M976.7,700.0L978.0,699.9L981.8,700.4L985.7,700.0L989.5,700.0L992.1,700.2L989.5,701.3L987.6,702.9L983.1,702.4L979.3,701.3L976.7,700.8Z M969.1,687.6L970.0,686.9L972.3,686.2L974.4,685.4L977.4,682.6L979.2,680.5L982.1,682.7L980.6,684.0L980.1,685.7L980.6,688.2L979.9,689.5L978.7,691.4L978.3,694.0L976.1,694.6L972.9,693.9L970.6,693.2L970.0,690.8L969.1,688.9Z M982.5,696.5L983.6,696.7L983.5,693.1L984.7,695.5L986.7,696.8L984.8,691.4L987.4,690.7L989.5,687.6L988.9,689.0L983.4,688.5L982.5,690.8L981.6,693.3Z M997.2,691.2L999.1,690.0L1001.0,690.7L1003.0,693.7L1005.9,691.4L1010.0,692.8L1014.5,694.4L1016.4,696.5L1018.7,697.3L1019.0,699.8L1022.1,703.0L1018.3,702.5L1016.4,699.8L1013.8,699.5L1011.9,701.5L1010.0,701.2L1007.4,699.9L1006.2,698.9L1007.1,697.8L1005.9,695.9L1002.3,695.1L1000.5,694.4L998.7,693.2L998.4,691.7Z M992.7,686.9L994.0,687.6L993.4,689.5L994.0,690.5L992.5,690.1Z M983.8,665.4L985.9,665.4L985.7,668.4L985.2,671.1L988.2,672.7L987.0,671.7L983.9,670.9L982.9,668.4Z M985.7,680.5L987.9,679.5L990.2,677.0L991.4,680.5L990.2,682.3L988.2,681.4L986.3,679.7Z M985.7,674.3L988.2,673.4L990.4,675.3L989.5,676.6L987.6,677.3L986.3,676.0Z M997.1,643.2L999.1,641.0L1003.0,640.7L1004.5,638.2L1006.8,637.2L1008.7,632.7L1008.7,631.2L1010.6,631.6L1011.3,634.4L1010.0,636.9L1009.9,638.6L1009.4,641.6L1007.4,642.1L1004.9,642.3L1002.7,643.7L998.9,643.5Z M1008.7,631.0L1010.3,630.5L1012.9,630.2L1015.8,627.9L1013.8,626.5L1011.0,624.0L1010.6,627.6L1009.1,627.9Z M995.5,644.0L997.2,643.2L998.5,644.7L997.6,647.3L996.2,647.4L995.7,645.2Z M998.9,643.4L1001.8,642.9L1001.8,644.0L999.8,645.0Z M1011.3,623.1L1013.2,621.6L1012.6,616.4L1014.5,617.4L1012.9,612.4L1012.8,608.6L1011.9,606.4L1010.9,608.6L1011.4,613.4L1011.1,619.3Z M984.4,656.2L985.7,656.4L984.4,660.6L983.4,659.5Z M968.5,664.5L970.3,663.2L971.6,663.8L970.3,665.8L968.7,665.4Z M721.0,660.8L724.7,659.1L727.2,659.1L730.4,660.9L734.7,663.1L733.0,663.5L730.2,663.5L729.2,661.3L724.9,660.4L723.2,660.8Z M734.4,665.5L736.5,663.5L740.0,663.6L742.1,665.3L738.8,666.1L736.6,665.9Z M753.7,620.1L757.8,612.2L758.6,616.4L761.2,617.0L762.3,620.1L761.0,622.0L758.2,621.2L757.3,620.1Z M896.1,557.7L899.3,559.6L902.5,560.0L901.2,554.4L903.8,545.7L907.6,538.4L910.2,534.2L906.4,532.5L901.2,545.7L899.3,550.2Z M847.5,530.3L851.3,533.1L857.7,527.4L855.2,517.9L843.7,517.9Z M665.5,613.8L669.7,615.4L671.8,618.5L669.5,618.0Z M1039.4,716.0L1043.3,718.8L1042.6,718.8L1039.7,716.6Z"/></clipPath></defs>
<g id="world">
<g clip-path="url(#landclip)">
<rect x="300" y="500" width="1200" height="400" fill="#d6e8c6"/>
<path d="M649.2,563.8L660.7,571.1L671.0,577.5L682.5,583.5L694.0,588.2L701.7,591.7L708.1,594.2L710.6,597.9L717.0,601.5L724.7,603.8L729.8,601.5L733.6,596.7L740.0,597.9L747.7,596.7L752.8,604.9L765.6,604.9L765.6,510.9L637.7,510.9L637.7,562.3Z" fill="#e8e9e3"/>
<path d="M729.8,686.9L740.0,683.1L752.8,683.1L763.1,686.9L768.2,692.1L769.5,699.8L759.2,707.6L746.4,708.9L737.5,705.0L732.4,697.2L729.8,692.1Z M839.8,684.4L848.8,683.1L861.6,683.1L868.0,686.9L868.0,694.6L861.6,699.8L848.8,697.2L842.4,693.3Z M814.2,680.5L823.2,680.5L829.6,680.5L836.0,681.2L839.8,681.8L836.0,683.1L819.4,683.7L813.0,679.2Z M868.0,600.3L873.1,587.7L883.3,580.6L893.6,574.4L903.8,573.4L914.0,576.0L919.2,587.7L916.6,600.3L906.4,603.8L893.6,604.9L880.8,604.9Z M929.4,607.1L932.0,593.0L937.1,579.1L947.3,576.0L957.5,582.0L960.1,597.9L955.0,607.1L942.2,609.2Z M970.3,602.6L980.6,593.0L993.4,593.0L1001.0,604.9L993.4,615.4L980.6,615.4Z M650.5,587.7L663.3,587.7L676.1,593.0L688.9,595.5L701.7,600.3L708.1,604.9L717.0,609.2L727.2,613.4L737.5,613.4L745.2,615.4L745.2,621.2L733.6,624.0L720.9,622.1L708.1,616.4L688.9,613.4L676.1,613.4L663.3,604.9Z M656.9,597.9L663.3,602.6L669.7,615.4L673.5,623.1L671.0,623.1L667.1,611.3L659.4,600.3Z M951.1,663.4L957.5,660.6L967.8,663.4L965.2,674.0L960.1,674.0L956.3,670.1L952.4,667.4Z M969.1,686.9L980.6,683.1L979.3,693.3L972.9,693.3L969.1,690.8Z M952.4,684.4L962.7,692.1L963.9,695.9L957.5,692.1Z M998.5,690.8L1010.0,693.3L1017.7,697.2L1013.8,699.8L1006.2,697.2L1001.0,694.6Z M711.9,666.1L717.0,668.8L722.1,674.0L724.7,677.9L719.6,676.6L714.5,671.4Z" fill="#b9d5b1"/>
<path d="M807.9,670.1L823.2,668.8L842.4,669.4L855.2,669.4L868.0,668.8L878.2,667.4L875.7,652.2L870.5,647.0L855.2,647.7L842.4,644.7L829.6,641.6L816.8,649.2L806.6,660.6Z M874.4,649.2L878.2,663.4L884.6,672.7L896.1,670.1L906.4,660.6L903.8,655.0L893.6,650.7L891.0,647.7L880.8,643.2Z M885.9,646.2L893.6,649.2L903.8,655.7L915.3,656.4L920.4,652.2L919.2,644.7L914.0,636.9L906.4,633.6L900.0,624.9L893.6,621.2L888.5,623.1L896.1,630.2L897.4,638.5L891.0,641.6Z M900.0,633.6L908.9,640.1L919.2,638.5L925.6,633.6L932.0,630.2L944.7,631.9L957.5,631.9L970.3,630.2L979.3,626.7L972.9,623.1L957.5,624.9L944.7,621.2L932.0,623.1L919.2,623.1L908.9,621.2L900.0,623.1Z M929.4,641.6L938.3,652.2L951.1,650.7L957.5,646.2L955.0,638.5L942.2,638.5Z M888.5,621.2L893.6,613.4L906.4,611.3L919.2,609.2L932.0,613.4L939.6,617.4L934.5,624.9L919.2,626.7L906.4,626.7L896.1,624.9Z M957.5,630.2L967.8,624.9L976.7,623.1L980.6,626.7L972.9,631.9L962.7,633.6Z M915.3,657.9L921.7,657.9L925.6,652.2L921.7,647.7L916.6,650.7Z M671.0,631.9L679.9,644.7L686.3,649.2L694.0,653.6L697.8,659.3L702.9,663.4L705.5,657.9L706.8,650.7L709.3,644.7L709.3,636.9L708.1,626.7L705.5,617.4L696.5,615.4L682.5,617.4L676.1,624.9Z M688.9,659.3L682.5,650.7L679.9,645.5L686.3,649.2L690.1,659.3Z M737.5,767.7L740.0,754.1L740.0,742.1L742.6,732.8L741.3,718.4L740.0,708.9L737.5,710.2L739.4,722.6L738.1,737.4L736.2,754.1L734.9,767.7Z M740.0,767.7L745.2,759.7L747.7,748.8L750.3,742.1L745.2,737.4L742.6,745.4L738.8,755.9L738.8,767.7Z M775.9,695.9L782.3,699.8L778.4,707.6L773.3,705.0L772.0,697.2Z M847.5,729.8L845.0,711.6L852.6,711.6L861.6,715.6L865.4,726.8L855.2,734.3Z M880.8,685.7L887.2,686.9L894.8,675.3L885.9,675.3L880.8,679.2Z M978.0,718.4L984.4,714.3L993.4,711.6L1002.3,712.9L1008.7,717.0L1015.1,722.6L1016.4,729.8L1012.6,735.8L1004.9,734.3L995.9,731.3L985.7,732.8L978.0,729.8L975.5,724.0Z" fill="#f5f2de"/>
</g>
<path d="M773.9,593.5L778.4,584.9L782.3,577.5L788.7,569.4L797.6,564.1L801.5,560.4L802.1,552.3L805.3,543.3L805.9,530.3L750.3,524.4L754.1,534.2L757.3,541.9L759.9,554.4L764.4,560.4L761.2,565.9L762.4,576.0L765.6,583.5L768.2,590.4Z" fill="#fbfbfb"/>
<path d="M866.6,631.6L867.9,631.6L871.8,630.2L875.7,630.7L878.2,631.9L882.7,631.0L882.8,629.1L880.1,626.7L877.6,625.4L876.3,624.3L874.4,624.9L872.5,625.8L871.2,624.2L872.5,623.1L869.3,622.0L868.0,623.4L867.5,624.9L866.2,626.7L865.4,629.3Z M874.4,624.3L876.4,624.2L878.9,621.0L876.9,621.2L874.8,622.5Z M890.4,624.0L890.4,628.4L892.9,632.7L892.3,636.1L892.2,636.9L892.9,637.7L894.8,639.0L898.6,638.6L898.7,637.8L898.4,635.2L897.4,633.6L897.2,631.0L895.2,627.9L894.2,625.8L896.1,624.2L897.7,621.8L894.8,621.2L892.3,622.1Z M904.4,623.1L907.6,622.1L908.3,625.8L905.7,627.2L904.4,625.8Z M711.9,621.8L715.7,618.5L719.6,617.8L721.4,622.1L717.7,622.1Z M717.3,630.2L719.2,629.3L719.6,624.0L720.9,623.4L717.0,624.0Z M724.0,628.4L725.3,624.3L721.5,623.1L722.8,624.9Z M722.9,630.7L728.5,628.8L728.3,629.3L724.0,631.2Z M962.7,612.2L964.6,611.8L969.1,603.8L969.8,603.3L967.8,609.2L965.2,611.3Z M704.2,614.4L706.1,614.4L704.9,608.2L702.9,608.2Z M669.7,579.1L677.4,579.1L674.8,572.8L671.0,574.4Z M679.9,590.4L687.6,589.0L686.3,586.3L681.2,587.7Z M870.5,689.9L873.1,689.9L873.1,693.3L870.5,692.8Z" fill="#aad3fb"/>
</g>
<use href="#world" transform="translate(-460.6,0)"/>
<line x1="829.6" y1="536" x2="829.6" y2="796" stroke="#fff" stroke-opacity="0.35" stroke-width="0.8"/><line x1="599.3" y1="536" x2="599.3" y2="796" stroke="#fff" stroke-opacity="0.35" stroke-width="0.8"/><polyline points="599.3,510.9 599.3,535.8 613.4,569.1 613.9,577.5 586.6,609.2 599.8,618.3" fill="none" stroke="#8e8590" stroke-width="1.3" stroke-dasharray="4.5 2.5"/><polyline points="1059.9,510.9 1059.9,535.8 1074.0,569.1 1074.5,577.5 1047.2,609.2 1060.4,618.3" fill="none" stroke="#8e8590" stroke-width="1.3" stroke-dasharray="4.5 2.5"/><polyline points="599.8,618.3 599.8,691.9" fill="none" stroke="#ab9cab" stroke-width="1.1"/><polyline points="1060.4,618.3 1060.4,691.9" fill="none" stroke="#ab9cab" stroke-width="1.1"/><polyline points="599.8,691.9 625.6,691.9 625.6,685.5 621.6,682.6 629.5,682.2 639.4,704.4 633.5,704.4 633.5,699.8 612.7,699.8 609.7,703.4 609.7,752.9 599.8,766.7" fill="none" stroke="#8e8590" stroke-width="1.3" stroke-dasharray="4.5 2.5"/><polyline points="1060.4,691.9 1086.2,691.9 1086.2,685.5 1082.2,682.6 1090.1,682.2 1100.0,704.4 1094.1,704.4 1094.1,699.8 1073.3,699.8 1070.3,703.4 1070.3,752.9 1060.4,766.7" fill="none" stroke="#8e8590" stroke-width="1.3" stroke-dasharray="4.5 2.5"/><polyline points="599.8,766.7 599.8,800.0" fill="none" stroke="#ab9cab" stroke-width="1.1"/><polyline points="1060.4,766.7 1060.4,800.0" fill="none" stroke="#ab9cab" stroke-width="1.1"/><line x1="583" y1="689.8" x2="1062" y2="689.8" stroke="#a596a5" stroke-width="1.6" stroke-dasharray="4.5 2.8"/><text x="703.2" y="625" style='font-family:"Liberation Sans", sans-serif;font-size:8.6px;font-style:italic;fill:#555;stroke:#fff;stroke-width:2.2;stroke-opacity:.85;paint-order:stroke;text-anchor:middle;letter-spacing:-0.1px'>NORTH</text>
<text x="703.2" y="633.5" style='font-family:"Liberation Sans", sans-serif;font-size:8.6px;font-style:italic;fill:#555;stroke:#fff;stroke-width:2.2;stroke-opacity:.85;paint-order:stroke;text-anchor:middle;letter-spacing:-0.1px'>AMERICA</text>
<text x="758.9" y="703" style='font-family:"Liberation Sans", sans-serif;font-size:8.6px;font-style:italic;fill:#555;stroke:#fff;stroke-width:2.2;stroke-opacity:.85;paint-order:stroke;text-anchor:middle;letter-spacing:-0.1px'>SOUTH</text>
<text x="758.9" y="712" style='font-family:"Liberation Sans", sans-serif;font-size:8.6px;font-style:italic;fill:#555;stroke:#fff;stroke-width:2.2;stroke-opacity:.85;paint-order:stroke;text-anchor:middle;letter-spacing:-0.1px'>AMERICA</text>
<text x="849" y="622" style='font-family:"Liberation Sans", sans-serif;font-size:8.6px;font-style:italic;fill:#555;stroke:#fff;stroke-width:2.2;stroke-opacity:.85;paint-order:stroke;text-anchor:middle;letter-spacing:-0.1px'>EUROPE</text>
<text x="849.5" y="669.5" style='font-family:"Liberation Sans", sans-serif;font-size:8.6px;font-style:italic;fill:#555;stroke:#fff;stroke-width:2.2;stroke-opacity:.85;paint-order:stroke;text-anchor:middle;letter-spacing:-0.1px'>AFRICA</text>
<text x="949.4" y="601.5" style='font-family:"Liberation Sans", sans-serif;font-size:8.6px;font-style:italic;fill:#555;stroke:#fff;stroke-width:2.2;stroke-opacity:.85;paint-order:stroke;text-anchor:middle;letter-spacing:-0.1px'>ASIA</text>
<text x="1003" y="726.5" style='font-family:"Liberation Sans", sans-serif;font-size:8.6px;font-style:italic;fill:#555;stroke:#fff;stroke-width:2.2;stroke-opacity:.85;paint-order:stroke;text-anchor:middle;letter-spacing:-0.1px'>OCEANIA</text>
<text x="776" y="648" style='font-family:"Liberation Sans", sans-serif;font-size:8.5px;fill:#6a8ccc;text-anchor:middle'>Atlantic</text>
<text x="776" y="655.5" style='font-family:"Liberation Sans", sans-serif;font-size:8.5px;fill:#6a8ccc;text-anchor:middle'>Ocean</text>
<text x="642.9" y="715.5" style='font-family:"Liberation Sans", sans-serif;font-size:8.5px;fill:#6a8ccc;text-anchor:middle'>Pacific</text>
<text x="642.9" y="722.5" style='font-family:"Liberation Sans", sans-serif;font-size:8.5px;fill:#6a8ccc;text-anchor:middle'>Ocean</text>
<text x="931.3" y="717.7" style='font-family:"Liberation Sans", sans-serif;font-size:8.5px;fill:#6a8ccc;text-anchor:middle'>Indian</text>
<text x="931.3" y="725.2" style='font-family:"Liberation Sans", sans-serif;font-size:8.5px;fill:#6a8ccc;text-anchor:middle'>Ocean</text>
<circle cx="916.3" cy="643.4" r="5.2" fill="#f2a531" fill-opacity="0.5" stroke="#f2a531" stroke-opacity="0.8" stroke-width="1"/>
<circle cx="749.1" cy="743.1" r="6" fill="#3c94ed" fill-opacity="0.5" stroke="#3c94ed" stroke-opacity="0.8" stroke-width="1"/>
<circle cx="887.7" cy="633.4" r="5" fill="#5028a4" fill-opacity="0.5" stroke="#5028a4" stroke-opacity="0.8" stroke-width="1"/>
<circle cx="731" cy="656.2" r="5.2" fill="#3c94ed" fill-opacity="0.5" stroke="#3c94ed" stroke-opacity="0.8" stroke-width="1"/>
<circle cx="763.6" cy="708.1" r="7.1" fill="#e46a22" fill-opacity="0.5" stroke="#e46a22" stroke-opacity="0.8" stroke-width="1"/>
<circle cx="827.7" cy="673.5" r="5" fill="#f2a531" fill-opacity="0.5" stroke="#f2a531" stroke-opacity="0.8" stroke-width="1"/>
<circle cx="694.3" cy="602.2" r="7.4" fill="#dc2a8b" fill-opacity="0.5" stroke="#dc2a8b" stroke-opacity="0.8" stroke-width="1"/>
<circle cx="738.7" cy="738.7" r="5" fill="#2962e6" fill-opacity="0.5" stroke="#2962e6" stroke-opacity="0.8" stroke-width="1"/>
<circle cx="962.9" cy="639.9" r="24.5" fill="#41a8c3" fill-opacity="0.5" stroke="#41a8c3" stroke-opacity="0.8" stroke-width="1"/>
<circle cx="735.1" cy="683.7" r="6" fill="#2962e6" fill-opacity="0.5" stroke="#2962e6" stroke-opacity="0.8" stroke-width="1"/>
<circle cx="857.4" cy="694.5" r="5" fill="#c8664a" fill-opacity="0.5" stroke="#c8664a" stroke-opacity="0.8" stroke-width="1"/>
<circle cx="850.5" cy="615.1" r="4.8" fill="#5028a4" fill-opacity="0.5" stroke="#5028a4" stroke-opacity="0.8" stroke-width="1"/>
<circle cx="881.7" cy="677.7" r="5" fill="#3c94ed" fill-opacity="0.5" stroke="#3c94ed" stroke-opacity="0.8" stroke-width="1"/>
<circle cx="863.9" cy="587.8" r="5.9" fill="#e686a8" fill-opacity="0.5" stroke="#e686a8" stroke-opacity="0.8" stroke-width="1"/>
<circle cx="832.9" cy="622.5" r="10.4" fill="#8a60c0" fill-opacity="0.5" stroke="#8a60c0" stroke-opacity="0.8" stroke-width="1"/>
<circle cx="639.3" cy="712.8" r="4.7" fill="#e686a8" fill-opacity="0.5" stroke="#e686a8" stroke-opacity="0.8" stroke-width="1"/>
<circle cx="843.1" cy="612.6" r="4.8" fill="#666666" fill-opacity="0.5" stroke="#666666" stroke-opacity="0.8" stroke-width="1"/>
<circle cx="858" cy="635.4" r="6.7" fill="#e46a22" fill-opacity="0.5" stroke="#e46a22" stroke-opacity="0.8" stroke-width="1"/>
<circle cx="720.1" cy="669.9" r="6.4" fill="#79a843" fill-opacity="0.5" stroke="#79a843" stroke-opacity="0.8" stroke-width="1"/>
<circle cx="855" cy="619.6" r="4.5" fill="#dc2a8b" fill-opacity="0.5" stroke="#dc2a8b" stroke-opacity="0.8" stroke-width="1"/>
<circle cx="975.5" cy="690.7" r="21.3" fill="#3f78d8" fill-opacity="0.5" stroke="#3f78d8" stroke-opacity="0.8" stroke-width="1"/>
<circle cx="898.5" cy="645.4" r="4.9" fill="#79a843" fill-opacity="0.5" stroke="#79a843" stroke-opacity="0.8" stroke-width="1"/>
<circle cx="845.8" cy="630" r="4.8" fill="#e686a8" fill-opacity="0.5" stroke="#e686a8" stroke-opacity="0.8" stroke-width="1"/>
<circle cx="731.7" cy="666.3" r="5" fill="#dc2a8b" fill-opacity="0.5" stroke="#dc2a8b" stroke-opacity="0.8" stroke-width="1"/>
<circle cx="1006" cy="639.9" r="4.9" fill="#666666" fill-opacity="0.5" stroke="#666666" stroke-opacity="0.8" stroke-width="1"/>
<circle cx="961.1" cy="662.5" r="4.9" fill="#666666" fill-opacity="0.5" stroke="#666666" stroke-opacity="0.8" stroke-width="1"/>
<circle cx="889.9" cy="714.1" r="5" fill="#e686a8" fill-opacity="0.5" stroke="#e686a8" stroke-opacity="0.8" stroke-width="1"/>
<circle cx="960.2" cy="684" r="5.7" fill="#e46a22" fill-opacity="0.5" stroke="#e46a22" stroke-opacity="0.8" stroke-width="1"/>
<circle cx="699.5" cy="658.3" r="6.4" fill="#d9446f" fill-opacity="0.5" stroke="#d9446f" stroke-opacity="0.8" stroke-width="1"/>
<circle cx="962.6" cy="621.6" r="4.9" fill="#c8664a" fill-opacity="0.5" stroke="#c8664a" stroke-opacity="0.8" stroke-width="1"/>
<circle cx="937" cy="651.3" r="4.9" fill="#5028a4" fill-opacity="0.5" stroke="#5028a4" stroke-opacity="0.8" stroke-width="1"/>
<circle cx="836.9" cy="610.6" r="5" fill="#3c94ed" fill-opacity="0.5" stroke="#3c94ed" stroke-opacity="0.8" stroke-width="1"/>
<circle cx="840.8" cy="666" r="4.8" fill="#c8664a" fill-opacity="0.5" stroke="#c8664a" stroke-opacity="0.8" stroke-width="1"/>
<circle cx="840.8" cy="677.7" r="5" fill="#79a843" fill-opacity="0.5" stroke="#79a843" stroke-opacity="0.8" stroke-width="1"/>
<circle cx="1001.8" cy="679.6" r="4.9" fill="#666666" fill-opacity="0.5" stroke="#666666" stroke-opacity="0.8" stroke-width="1"/>
<circle cx="755.8" cy="720.3" r="4.7" fill="#41a8c3" fill-opacity="0.5" stroke="#41a8c3" stroke-opacity="0.8" stroke-width="1"/>
<circle cx="734.4" cy="701.3" r="6.3" fill="#dc2a8b" fill-opacity="0.5" stroke="#dc2a8b" stroke-opacity="0.8" stroke-width="1"/>
<circle cx="985.2" cy="672.9" r="9.4" fill="#41a8c3" fill-opacity="0.5" stroke="#41a8c3" stroke-opacity="0.8" stroke-width="1"/>
<circle cx="854.5" cy="611.1" r="10.1" fill="#2962e6" fill-opacity="0.5" stroke="#2962e6" stroke-opacity="0.8" stroke-width="1"/>
<circle cx="819.3" cy="634.4" r="9.6" fill="#e686a8" fill-opacity="0.5" stroke="#e686a8" stroke-opacity="0.8" stroke-width="1"/>
<circle cx="964.4" cy="588.8" r="11.4" fill="#c8664a" fill-opacity="0.5" stroke="#c8664a" stroke-opacity="0.8" stroke-width="1"/>
<circle cx="857.3" cy="628.5" r="5" fill="#2962e6" fill-opacity="0.5" stroke="#2962e6" stroke-opacity="0.8" stroke-width="1"/>
<circle cx="858.9" cy="730.5" r="5" fill="#79a843" fill-opacity="0.5" stroke="#79a843" stroke-opacity="0.8" stroke-width="1"/>
<circle cx="825" cy="632.9" r="4.8" fill="#666666" fill-opacity="0.5" stroke="#666666" stroke-opacity="0.8" stroke-width="1"/>
<circle cx="933.1" cy="679.6" r="5.7" fill="#e686a8" fill-opacity="0.5" stroke="#e686a8" stroke-opacity="0.8" stroke-width="1"/>
<circle cx="854" cy="592.3" r="8.9" fill="#ec7050" fill-opacity="0.5" stroke="#ec7050" stroke-opacity="0.8" stroke-width="1"/>
<circle cx="880.1" cy="641.9" r="5" fill="#d9446f" fill-opacity="0.5" stroke="#d9446f" stroke-opacity="0.8" stroke-width="1"/>
<circle cx="920.9" cy="635.7" r="5.7" fill="#3c94ed" fill-opacity="0.5" stroke="#3c94ed" stroke-opacity="0.8" stroke-width="1"/>
<circle cx="874.2" cy="697.5" r="5.5" fill="#5028a4" fill-opacity="0.5" stroke="#5028a4" stroke-opacity="0.8" stroke-width="1"/>
<circle cx="958.7" cy="669.1" r="4.8" fill="#5028a4" fill-opacity="0.5" stroke="#5028a4" stroke-opacity="0.8" stroke-width="1"/>
<circle cx="830.9" cy="678.4" r="5" fill="#79a843" fill-opacity="0.5" stroke="#79a843" stroke-opacity="0.8" stroke-width="1"/>
<circle cx="842.1" cy="643.3" r="4.8" fill="#e686a8" fill-opacity="0.5" stroke="#e686a8" stroke-opacity="0.8" stroke-width="1"/>
<circle cx="869.9" cy="618.6" r="5.7" fill="#f2a531" fill-opacity="0.5" stroke="#f2a531" stroke-opacity="0.8" stroke-width="1"/>
<circle cx="708" cy="638.5" r="8.9" fill="#e46a22" fill-opacity="0.5" stroke="#e46a22" stroke-opacity="0.8" stroke-width="1"/>
<circle cx="758.9" cy="733.7" r="5.8" fill="#dc2a8b" fill-opacity="0.5" stroke="#dc2a8b" stroke-opacity="0.8" stroke-width="1"/>
<circle cx="912.3" cy="630.9" r="5.5" fill="#dc2a8b" fill-opacity="0.5" stroke="#dc2a8b" stroke-opacity="0.8" stroke-width="1"/>
<circle cx="745" cy="681.1" r="5.6" fill="#f2a531" fill-opacity="0.5" stroke="#f2a531" stroke-opacity="0.8" stroke-width="1"/>
<circle cx="968.5" cy="671.4" r="6.7" fill="#dc2a8b" fill-opacity="0.5" stroke="#dc2a8b" stroke-opacity="0.8" stroke-width="1"/>
<circle cx="867.3" cy="714.1" r="5.5" fill="#f2a531" fill-opacity="0.5" stroke="#f2a531" stroke-opacity="0.8" stroke-width="1"/>
</svg>
</div>
<div style="position:absolute;left:590px;top:543px;font-size:12.5px;font-weight:bold;color:#111;white-space:nowrap;letter-spacing:-0.25px;text-shadow:0 0 2px #fff">Title by Region</div>
<div class="mbtn" style="top:546px;height:36px"><svg width="36" height="36" viewBox="0 0 36 36"><path d="M11.3 15.3V11h4.3M21.7 11H26v4.3M26 21.2v4.3h-4.3M15.6 25.5h-4.3v-4.3" fill="none" stroke="#555" stroke-width="2"/></svg></div>
<div class="mbtn" style="top:635px;height:35px"><svg width="36" height="35" viewBox="0 0 36 35">
<circle cx="17.6" cy="8.3" r="4.6" fill="#f5b51b" stroke="#c98a09" stroke-width="0.6"/>
<path d="M12.6 13.2h10l1.9 10.5h-1.9l-0.9-4.5 -0.4 10.3h-2.4l-0.8-6.3 -0.8 6.3h-2.4l-0.4-10.3 -0.9 4.5h-1.9z" fill="#f5b51b" stroke="#c98a09" stroke-width="0.6"/>
<path d="M14.8 13.2l2.8 4.2 2.8-4.2z" fill="#d9731c"/></svg></div>
<div class="mbtn" style="top:699px;height:73px"><svg width="36" height="73" viewBox="0 0 36 73"><path d="M18 10v15M10.5 17.5h15" stroke="#666" stroke-width="3.2"/><line x1="6" y1="37" x2="30" y2="37" stroke="#e6e6e6" stroke-width="1"/><path d="M10.5 54.5h15" stroke="#666" stroke-width="3.2"/></svg></div>
<div style="position:absolute;left:590px;top:769.5px;font-size:18.8px;font-weight:bold;letter-spacing:-1.3px;white-space:nowrap;text-shadow:0 0 1.5px #fff,0 0 2.5px #fff,0 0 3px rgba(255,255,255,.8)"><span style="color:#4a80e8">G</span><span style="color:#e04a38">o</span><span style="color:#f2b71e">o</span><span style="color:#4a80e8">g</span><span style="color:#3ea85a">l</span><span style="color:#e04a38">e</span></div>
<div style="position:absolute;left:817px;top:781px;width:244px;height:13px;background:rgba(245,245,245,0.72);font-size:9.3px;color:#333;white-space:nowrap;line-height:14px">
<span style="position:absolute;left:4.3px">Map data ©2021</span>
<span style="position:absolute;left:78px;top:0;width:1px;height:13px;background:#fff"></span>
<span style="position:absolute;left:83.3px">2000 km</span>
<span style="position:absolute;left:121.4px;top:3px;width:51.3px;height:5px;border:1.5px solid #444;border-top:none"></span>
<span style="position:absolute;left:185px">Terms of Use</span>
</div>

</body></html>
